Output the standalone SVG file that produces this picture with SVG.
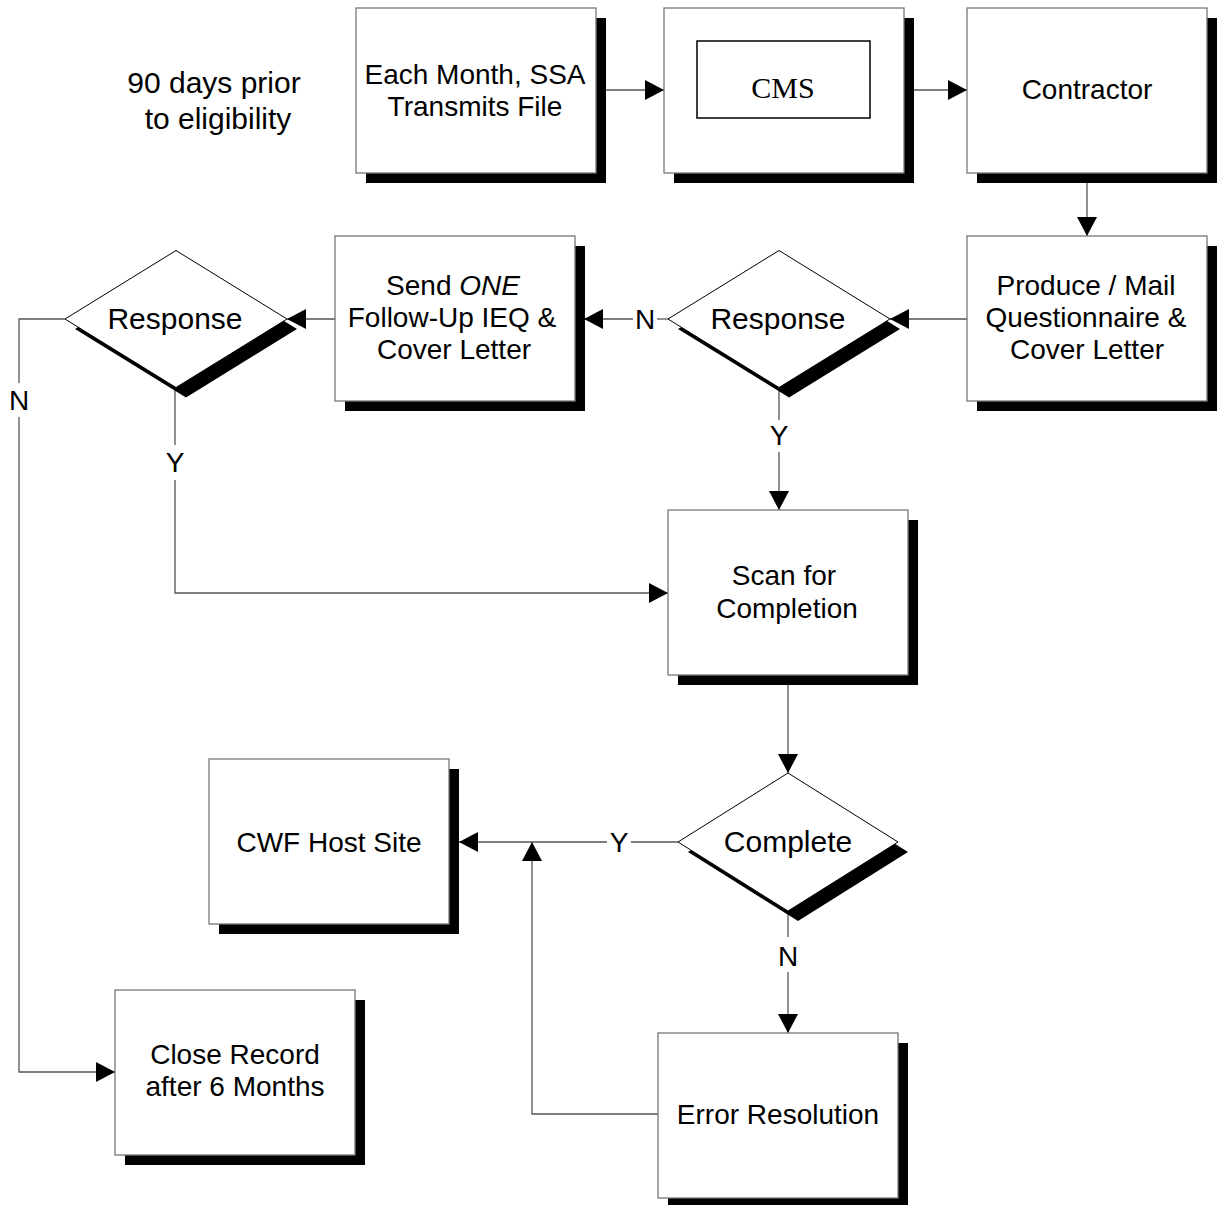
<svg xmlns="http://www.w3.org/2000/svg" width="1218" height="1205" viewBox="0 0 1218 1205">
<style>
.bg{fill:#fff}
.box{fill:#fff;stroke:#777;stroke-width:1.3}
.sh{fill:#000}
.dia{fill:#fff;stroke:#000;stroke-width:1}
.conn{fill:none;stroke:#555;stroke-width:1.3}
.t{font-family:"Liberation Sans",Arial,sans-serif;font-size:28px;fill:#000;text-anchor:middle}
.d{font-size:30px}
.lbl{font-size:28px}
.cms{font-family:"Liberation Serif","Times New Roman",serif;font-size:30px;fill:#000;text-anchor:middle}
</style>
<defs>
<marker id="ah" markerUnits="userSpaceOnUse" viewBox="0 0 20 20" markerWidth="20" markerHeight="20" refX="19" refY="10" orient="auto">
<path d="M0,0 L19,10 L0,20 z" fill="#000"/>
</marker>
</defs>
<rect class="bg" x="0" y="0" width="1218" height="1205"/>

<text class="t" x="214" y="93" font-size="30" style="font-size:30px">90 days prior</text>
<text class="t" x="218" y="129" style="font-size:30px">to eligibility</text>

<g id="connectors">
<path class="conn" d="M596,90 H664" marker-end="url(#ah)"/>
<path class="conn" d="M904,90 H967" marker-end="url(#ah)"/>
<path class="conn" d="M1087,173 V236" marker-end="url(#ah)"/>
<path class="conn" d="M967,319 H890" marker-end="url(#ah)"/>
<path class="conn" d="M668,319 H657"/>
<text class="t lbl" x="645" y="329">N</text>
<path class="conn" d="M633,319 H584" marker-end="url(#ah)"/>
<path class="conn" d="M335,319 H287" marker-end="url(#ah)"/>
<path class="conn" d="M779,388 V420"/>
<text class="t lbl" x="779" y="445">Y</text>
<path class="conn" d="M779,452 V510" marker-end="url(#ah)"/>
<path class="conn" d="M175,388 V445"/>
<text class="t lbl" x="175" y="472">Y</text>
<path class="conn" d="M175,480 V593 H668" marker-end="url(#ah)"/>
<path class="conn" d="M65,319 H19 V383"/>
<text class="t lbl" x="19" y="410">N</text>
<path class="conn" d="M19,417 V1072 H115" marker-end="url(#ah)"/>
<path class="conn" d="M788,675 V773" marker-end="url(#ah)"/>
<path class="conn" d="M678,842 H631"/>
<text class="t lbl" x="619" y="852">Y</text>
<path class="conn" d="M607,842 H459" marker-end="url(#ah)"/>
<path class="conn" d="M788,911 V937"/>
<text class="t lbl" x="788" y="966">N</text>
<path class="conn" d="M788,972 V1033" marker-end="url(#ah)"/>
<path class="conn" d="M658,1114 H532 V842" marker-end="url(#ah)"/>
</g>

<g id="ssa">
<rect class="sh" x="366" y="18" width="240" height="165"/>
<rect class="box" x="356" y="8" width="240" height="165"/>
<text class="t" x="475" y="84">Each Month, SSA</text>
<text class="t" x="475" y="116">Transmits File</text>
</g>

<g id="cms">
<rect class="sh" x="674" y="18" width="240" height="165"/>
<rect class="box" x="664" y="8" width="240" height="165"/>
<rect x="697" y="41" width="173" height="77" fill="none" stroke="#000" stroke-width="1.5"/>
<text class="cms" x="783" y="98">CMS</text>
</g>

<g id="contractor">
<rect class="sh" x="977" y="18" width="240" height="165"/>
<rect class="box" x="967" y="8" width="240" height="165"/>
<text class="t" x="1087" y="99">Contractor</text>
</g>

<g id="produce">
<rect class="sh" x="977" y="246" width="240" height="165"/>
<rect class="box" x="967" y="236" width="240" height="165"/>
<text class="t" x="1086" y="295">Produce / Mail</text>
<text class="t" x="1086" y="327">Questionnaire &amp;</text>
<text class="t" x="1087" y="359">Cover Letter</text>
</g>

<g id="response2">
<polygon class="sh" points="678,329 789,260.5 900,329 789,397.5"/>
<polygon class="dia" points="668,319 779,250.5 890,319 779,387.5"/>
<text class="t d" x="778" y="329">Response</text>
</g>

<g id="followup">
<rect class="sh" x="345" y="246" width="240" height="165"/>
<rect class="box" x="335" y="236" width="240" height="165"/>
<text class="t" x="453" y="295">Send <tspan font-style="italic">ONE</tspan></text>
<text class="t" x="452" y="327">Follow-Up IEQ &amp;</text>
<text class="t" x="454" y="359">Cover Letter</text>
</g>

<g id="response1">
<polygon class="sh" points="75,329 186,260.5 297,329 186,397.5"/>
<polygon class="dia" points="65,319 176,250.5 287,319 176,387.5"/>
<text class="t d" x="175" y="329">Response</text>
</g>

<g id="scan">
<rect class="sh" x="678" y="520" width="240" height="165"/>
<rect class="box" x="668" y="510" width="240" height="165"/>
<text class="t" x="784" y="585">Scan for</text>
<text class="t" x="787" y="618">Completion</text>
</g>

<g id="complete">
<polygon class="sh" points="688,852 798,783 908,852 798,921"/>
<polygon class="dia" points="678,842 788,773 898,842 788,911"/>
<text class="t d" x="788" y="852">Complete</text>
</g>

<g id="cwf">
<rect class="sh" x="219" y="769" width="240" height="165"/>
<rect class="box" x="209" y="759" width="240" height="165"/>
<text class="t" x="329" y="852">CWF Host Site</text>
</g>

<g id="close">
<rect class="sh" x="125" y="1000" width="240" height="165"/>
<rect class="box" x="115" y="990" width="240" height="165"/>
<text class="t" x="235" y="1064">Close Record</text>
<text class="t" x="235" y="1096">after 6 Months</text>
</g>

<g id="error">
<rect class="sh" x="668" y="1043" width="240" height="165"/>
<rect class="box" x="658" y="1033" width="240" height="165"/>
<text class="t" x="778" y="1124">Error Resolution</text>
</g>
</svg>
